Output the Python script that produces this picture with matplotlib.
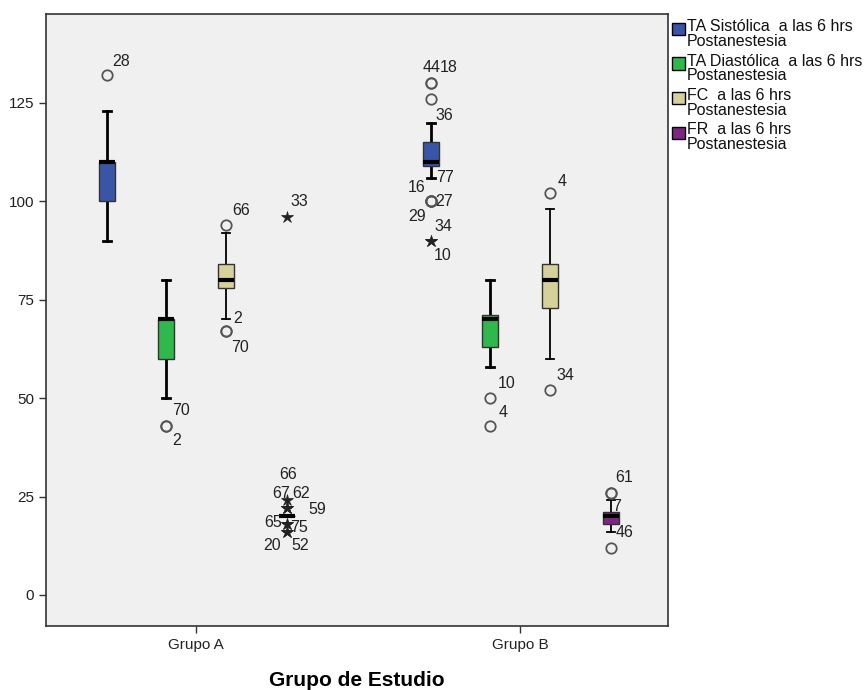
import matplotlib
matplotlib.use("Agg")
import matplotlib.pyplot as plt
from matplotlib.patches import Rectangle

plt.rcParams['font.family'] = ['Liberation Sans', 'DejaVu Sans']

# ---------------- data ----------------
groups = ["Grupo A", "Grupo B"]
series = ["TA Sistólica  a las 6 hrs\nPostanestesia",
          "TA Diastólica  a las 6 hrs\nPostanestesia",
          "FC  a las 6 hrs\nPostanestesia",
          "FR  a las 6 hrs\nPostanestesia"]

# five-number summaries: lower whisker, Q1, median, Q3, upper whisker
sist_A = [90, 100, 110, 110, 123]
diast_A = [50, 60, 70, 70, 80]
fc_A = [70, 78, 80, 84, 92]
fr_A = [20, 20, 20, 20, 20]
sist_B = [106, 109, 110, 115, 120]
diast_B = [58, 63, 70, 71, 80]
fc_B = [60, 73, 80, 84, 98]
fr_B = [16, 18, 20, 21, 24]

# outliers (circles) and extremes (stars) with case ids
sist_A_out = [132]
sist_A_out_ids = ["28"]
diast_A_out = [43, 43]
diast_A_out_ids = ["70", "2"]
fc_A_out = [94, 67, 67]
fc_A_out_ids = ["66", "2", "70"]
fr_A_ext = [96, 24, 22, 22, 22, 18, 18, 16, 16]
fr_A_ext_ids = ["33", "66", "67", "62", "59", "65", "75", "20", "52"]
sist_B_out = [130, 130, 126, 100, 100, 100, 100]
sist_B_out_ids = ["44", "18", "36", "77", "16", "27", "29"]
sist_B_ext = [90, 90]
sist_B_ext_ids = ["34", "10"]
diast_B_out = [50, 43]
diast_B_out_ids = ["10", "4"]
fc_B_out = [102, 52]
fc_B_out_ids = ["4", "34"]
fr_B_out = [26, 26, 12]
fr_B_out_ids = ["61", "7", "46"]

# ---------------- style ----------------
colors = ["#3A55A8", "#2FB84B", "#D6D09A", "#7B2681"]
whisker_lw = [2.0, 2.0, 1.3, 1.3]
offsets = [-0.275, -0.092, 0.093, 0.28]
box_w = 0.05

# label offsets in pixels (dx right, dy up), one per case id
lab_off = {
    "sist_A_out": [(14, 14)],
    "diast_A_out": [(15, 15), (10, -15)],
    "fc_A_out": [(15, 14), (12, 13), (14, -16)],
    "fr_A_ext": [(13, 16), (1, 26), (-6, 15), (14, 15), (31, -1), (-14, 2), (12, -3), (-15, -14), (13, -14)],
    "sist_B_out": [(1, 16), (18, 16), (13, -16), (14, 24), (-14, 14), (13, 0), (-14, -15)],
    "sist_B_ext": [(13, 14), (12, -15)],
    "diast_B_out": [(16, 15), (13, 13)],
    "fc_B_out": [(12, 12), (15, 15)],
    "fr_B_out": [(13, 15), (6, -14), (14, 15)],
}

summaries = [[sist_A, diast_A, fc_A, fr_A], [sist_B, diast_B, fc_B, fr_B]]
points = [
    (0, 0, "o", sist_A_out, sist_A_out_ids, "sist_A_out"),
    (0, 1, "o", diast_A_out, diast_A_out_ids, "diast_A_out"),
    (0, 2, "o", fc_A_out, fc_A_out_ids, "fc_A_out"),
    (0, 3, "*", fr_A_ext, fr_A_ext_ids, "fr_A_ext"),
    (1, 0, "o", sist_B_out, sist_B_out_ids, "sist_B_out"),
    (1, 0, "*", sist_B_ext, sist_B_ext_ids, "sist_B_ext"),
    (1, 1, "o", diast_B_out, diast_B_out_ids, "diast_B_out"),
    (1, 2, "o", fc_B_out, fc_B_out_ids, "fc_B_out"),
    (1, 3, "o", fr_B_out, fr_B_out_ids, "fr_B_out"),
]

fig = plt.figure(figsize=(8.65, 6.9), dpi=100)
ax = fig.add_axes([46 / 865, 1 - 626 / 690, (668 - 46) / 865, (626 - 14) / 690])
ax.set_facecolor("#F0F0F0")

for gi in range(len(groups)):
    for si in range(len(series)):
        lo, q1, med, q3, hi = summaries[gi][si]
        st = [dict(whislo=lo, q1=q1, med=med, q3=q3, whishi=hi, fliers=[])]
        pos = gi + offsets[si]
        art = ax.bxp(st, positions=[pos], widths=box_w, capwidths=box_w * 0.5,
                     patch_artist=True, showfliers=False, manage_ticks=False,
                     boxprops=dict(facecolor=colors[si], edgecolor="#333333", linewidth=1.0),
                     medianprops=dict(color="black", linewidth=3.0, solid_capstyle="butt"),
                     whiskerprops=dict(color="black", linewidth=whisker_lw[si]),
                     capprops=dict(color="black", linewidth=whisker_lw[si]))
        for b in art["boxes"]:
            b.set_zorder(3)
        for m in art["medians"]:
            m.set_zorder(4)

for gi, si, mk, vals, ids, key in points:
    pos = gi + offsets[si]
    xs = [pos] * len(vals)
    if mk == "o":
        ax.plot(xs, vals, linestyle="none", marker="o", markersize=7.5,
                markerfacecolor="none", markeredgecolor="#555555", markeredgewidth=1.3, zorder=5)
    else:
        ax.plot(xs, vals, linestyle="none", marker="*", markersize=9,
                markerfacecolor="#222222", markeredgecolor="#222222", markeredgewidth=0.5, zorder=5)
    for v, lab, (dx, dy) in zip(vals, ids, lab_off[key]):
        ax.annotate(lab, xy=(pos, v), xytext=(dx, dy), textcoords="offset pixels",
                    ha="center", va="center", fontsize=11.5, color="#222222", zorder=6)

ax.set_xlim(-0.463, 1.457)
ax.set_ylim(-7.9, 147.6)
ax.set_yticks([0, 25, 50, 75, 100, 125])
ax.set_xticks([0, 1])
ax.set_xticklabels(groups)
ax.tick_params(axis="both", direction="out", length=5, width=1, colors="#333333",
               labelsize=11, labelcolor="#222222")
for sp in ax.spines.values():
    sp.set_color("#333333")
    sp.set_linewidth(1.2)
ax.set_xlabel("Grupo de Estudio", fontsize=15, fontweight="bold", va="center")
ax.xaxis.set_label_coords(0.5, (626 - 680) / 612)

# legend (outside, top right)
for i, name in enumerate(series):
    ytop = 23 + 34.5 * i
    fig.patches.append(Rectangle((672 / 865, 1 - (ytop + 12) / 690), 13 / 865, 12 / 690,
                                 transform=fig.transFigure, facecolor=colors[i],
                                 edgecolor="black", linewidth=1.0))
    fig.text(687 / 865, 1 - (ytop - 4) / 690, name, ha="left", va="top",
             fontsize=11.5, linespacing=0.98, color="#111111")

fig.savefig("out.png", dpi=100)
